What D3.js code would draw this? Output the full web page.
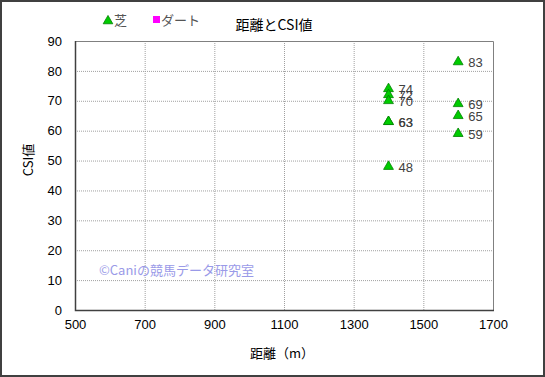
<!DOCTYPE html>
<html lang="ja">
<head>
<meta charset="UTF-8">
<script src="https://d3js.org/d3.v7.min.js"></script>
<style>
  body { margin: 0; background: #fff; }
  svg { display: block; }
  .num { font-family: "Liberation Sans", Arial, sans-serif; font-size: 13px; fill: #000; }
  .jp { font-family: "Noto Sans CJK JP", sans-serif; }
</style>
</head>
<body>
<svg width="545" height="377"></svg>
<script>
// 芝 data points
const distances = [1400, 1400, 1400, 1400, 1400, 1400, 1600, 1600, 1600, 1600];
const csiValues = [74, 72, 70, 63, 63, 48, 83, 69, 65, 59];
const xTicks = [500, 700, 900, 1100, 1300, 1500, 1700];
const yTicks = [0, 10, 20, 30, 40, 50, 60, 70, 80, 90];
const legendNames = ["芝", "ダート"];

const svg = d3.select("svg");
const W = 545, H = 377;
const m = { left: 75, right: 493, top: 41, bottom: 310 };

svg.append("rect").attr("x", 1).attr("y", 1).attr("width", W - 2).attr("height", H - 2)
  .attr("fill", "#fff").attr("stroke", "#404040").attr("stroke-width", 2);

const x = d3.scaleLinear().domain([500, 1700]).range([m.left, m.right]);
const y = d3.scaleLinear().domain([0, 90]).range([m.bottom, m.top]);

// grid
svg.append("g").selectAll("line").data(yTicks.slice(1, -1)).join("line")
  .attr("x1", m.left).attr("x2", m.right)
  .attr("y1", d => y(d) + 0.5).attr("y2", d => y(d) + 0.5)
  .attr("stroke", "#a0a0a0").attr("stroke-dasharray", "1,1");
svg.append("g").selectAll("line").data(xTicks.slice(1, -1)).join("line")
  .attr("y1", m.top).attr("y2", m.bottom)
  .attr("x1", d => x(d) + 0.5).attr("x2", d => x(d) + 0.5)
  .attr("stroke", "#a0a0a0").attr("stroke-dasharray", "1,1");

// plot border
svg.append("path")
  .attr("d", `M${m.left + 0.5},${m.top + 0.5}H${m.right + 0.5}V${m.bottom}`)
  .attr("fill", "none").attr("stroke", "#808080");
svg.append("path")
  .attr("d", `M${m.left + 0.5},${m.top}V${m.bottom + 0.5}H${m.right + 1}`)
  .attr("fill", "none").attr("stroke", "#404040").attr("stroke-width", 1.5);

// axes
const yAxis = svg.append("g").attr("transform", `translate(${m.left},0)`)
  .call(d3.axisLeft(y).tickValues(yTicks).tickSize(0).tickPadding(13));
const xAxis = svg.append("g").attr("transform", `translate(0,${m.bottom})`)
  .call(d3.axisBottom(x).tickValues(xTicks).tickSize(0).tickPadding(10).tickFormat(d3.format("d")));
[yAxis, xAxis].forEach(a => {
  a.select(".domain").remove();
  a.selectAll("text").attr("class", "num").attr("fill", "#000");
});

// watermark
svg.append("text").attr("class", "jp").attr("x", 99).attr("y", 275)
  .attr("font-size", 13).attr("fill", "#9a9ae8").text("©Caniの競馬データ研究室");

// points
const tri = d3.symbol().type(d3.symbolTriangle).size(42);
const pts = svg.append("g").selectAll("g").data(distances.map((d, i) => [d, csiValues[i]])).join("g")
  .attr("transform", d => `translate(${x(d[0])},${y(d[1])})`);
pts.append("path").attr("d", tri).attr("fill", "#00cc00").attr("stroke", "#008000").attr("stroke-width", 0.8);
pts.append("text").attr("class", "num").attr("x", 10).attr("y", 5)
  .attr("fill", "#404040").style("fill", "#404040").text(d => d[1]);

// title
svg.append("text").attr("class", "jp").attr("x", 274).attr("y", 30).attr("text-anchor", "middle")
  .attr("font-size", 14).text("距離とCSI値");

// legend
svg.append("path").attr("d", d3.symbol().type(d3.symbolTriangle).size(40))
  .attr("transform", "translate(108,21)").attr("fill", "#00cc00").attr("stroke", "#008000").attr("stroke-width", 0.8);
svg.append("text").attr("class", "jp").attr("x", 114).attr("y", 25).attr("font-size", 13)
  .attr("fill", "#555").text(legendNames[0]);
svg.append("rect").attr("x", 153).attr("y", 16).attr("width", 7).attr("height", 7).attr("fill", "#ff00ff");
svg.append("text").attr("class", "jp").attr("x", 161).attr("y", 25).attr("font-size", 13)
  .attr("fill", "#555").text(legendNames[1]);

// axis titles
svg.append("text").attr("class", "jp").attr("x", 282).attr("y", 358).attr("text-anchor", "middle")
  .attr("font-size", 13).text("距離（m）");
svg.append("text").attr("class", "jp").attr("transform", "translate(33,160) rotate(-90)")
  .attr("text-anchor", "middle").attr("font-size", 13).text("CSI値");
</script>
</body>
</html>
